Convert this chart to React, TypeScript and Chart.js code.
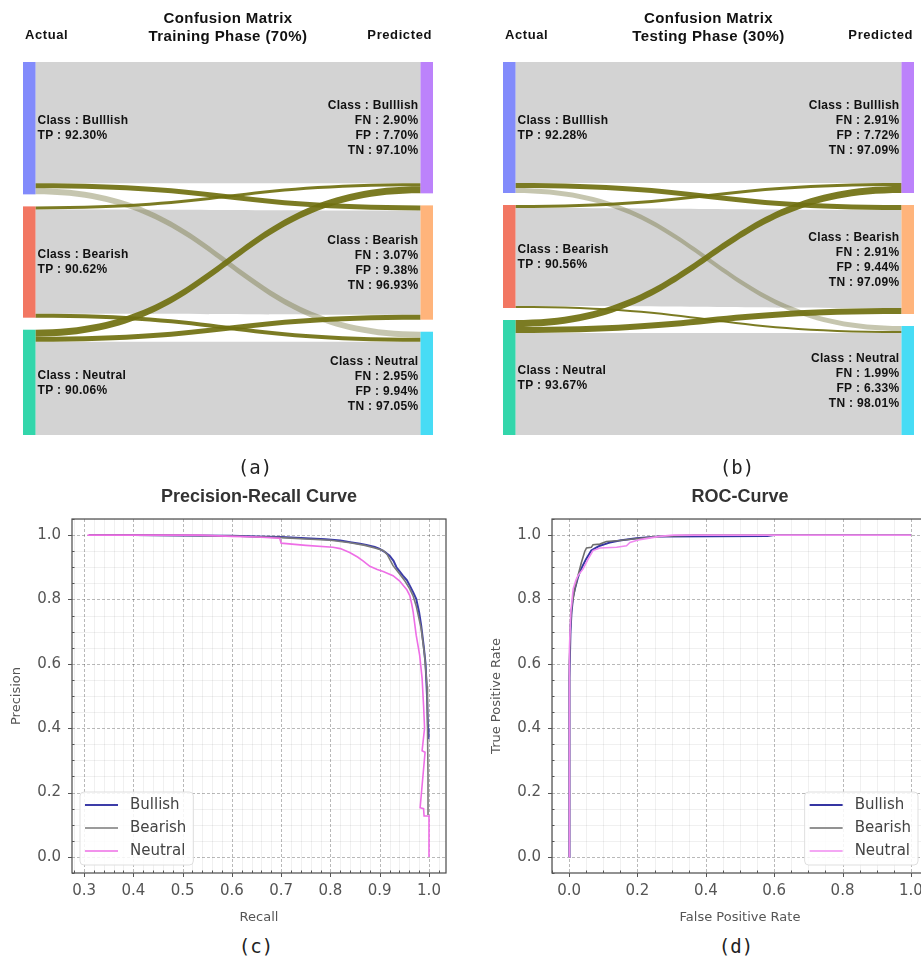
import React, { useEffect, useRef } from 'react';
import { Chart, registerables } from 'chart.js';

Chart.register(...registerables);

// ---------------- Sankey (confusion-matrix flow) data ----------------
const NODE_CLASSES = ['Bulllish', 'Bearish', 'Neutral'];
// rows = actual class, cols = predicted class (relative sample weights)
const TRAIN_FLOWS = [
  [121, 5, 6],
  [3, 104, 4],
  [7, 5, 93],
];
const TEST_FLOWS = [
  [121, 5, 5],
  [3, 98, 2],
  [7, 6, 102],
];
const TRAIN_TP = [92.3, 90.62, 90.06];
const TRAIN_FN = [2.9, 3.07, 2.95];
const TRAIN_FP = [7.7, 9.38, 9.94];
const TRAIN_TN = [97.1, 96.93, 97.05];
const TEST_TP = [92.28, 90.56, 93.67];
const TEST_FN = [2.91, 2.91, 1.99];
const TEST_FP = [7.72, 9.44, 6.33];
const TEST_TN = [97.09, 97.09, 98.01];

// ---------------- Precision-Recall data ----------------
const LEGEND_LABELS = ['Bullish', 'Bearish', 'Neutral'];
const PR_BULLISH_R = [0.31, 0.4, 0.5, 0.6, 0.65, 0.7, 0.75, 0.79, 0.82, 0.84, 0.86, 0.873, 0.89, 0.9, 0.91, 0.92, 0.928, 0.934, 0.94, 0.947, 0.955, 0.961, 0.968, 0.974, 0.98, 0.984, 0.989, 0.993, 0.996, 0.998, 0.999];
const PR_BULLISH_P = [1.0, 1.0, 0.999, 0.998, 0.996, 0.994, 0.99, 0.987, 0.983, 0.978, 0.973, 0.969, 0.963, 0.957, 0.948, 0.936, 0.92, 0.9, 0.888, 0.874, 0.86, 0.843, 0.822, 0.802, 0.76, 0.72, 0.658, 0.6, 0.5, 0.4, 0.366];
const PR_BEARISH_R = [0.31, 0.4, 0.5, 0.6, 0.65, 0.7, 0.75, 0.8, 0.84, 0.87, 0.89, 0.907, 0.915, 0.927, 0.94, 0.95, 0.961, 0.968, 0.974, 0.979, 0.984, 0.991, 0.996, 0.997, 0.998, 0.998];
const PR_BEARISH_P = [1.0, 1.0, 0.999, 0.997, 0.995, 0.992, 0.988, 0.984, 0.976, 0.968, 0.96, 0.952, 0.94, 0.905, 0.88, 0.86, 0.833, 0.81, 0.78, 0.745, 0.71, 0.627, 0.53, 0.4, 0.25, 0.13];
const PR_NEUTRAL_R = [0.307, 0.4, 0.535, 0.6, 0.65, 0.697, 0.7, 0.75, 0.805, 0.82, 0.839, 0.855, 0.866, 0.88, 0.895, 0.907, 0.927, 0.94, 0.947, 0.955, 0.961, 0.965, 0.968, 0.974, 0.981, 0.986, 0.989, 0.991, 0.986, 0.992, 0.982, 0.989, 0.99, 1.0, 1.0];
const PR_NEUTRAL_P = [1.0, 1.0, 1.0, 0.996, 0.994, 0.99, 0.975, 0.968, 0.962, 0.958, 0.946, 0.932, 0.92, 0.903, 0.893, 0.887, 0.874, 0.858, 0.845, 0.83, 0.812, 0.785, 0.76, 0.689, 0.627, 0.555, 0.47, 0.4, 0.33, 0.325, 0.153, 0.15, 0.127, 0.127, 0.0];

// ---------------- ROC data ----------------
const ROC_BULLISH_F = [0, 0, 0.001, 0.002, 0.004, 0.007, 0.012, 0.017, 0.025, 0.031, 0.04, 0.05, 0.058, 0.065, 0.078, 0.09, 0.105, 0.119, 0.148, 0.197, 0.265, 0.58, 0.6, 1.0];
const ROC_BULLISH_T = [0, 0.13, 0.38, 0.555, 0.7, 0.76, 0.81, 0.833, 0.865, 0.885, 0.905, 0.926, 0.94, 0.952, 0.96, 0.967, 0.972, 0.977, 0.983, 0.99, 0.996, 0.997, 1.0, 1.0];
const ROC_BEARISH_F = [0, 0, 0.002, 0.004, 0.008, 0.017, 0.026, 0.036, 0.046, 0.051, 0.065, 0.07, 0.09, 0.109, 0.148, 0.187, 0.265, 0.363, 1.0];
const ROC_BEARISH_T = [0, 0.3, 0.606, 0.72, 0.78, 0.833, 0.874, 0.915, 0.95, 0.96, 0.962, 0.97, 0.972, 0.98, 0.983, 0.988, 0.996, 1.0, 1.0];
const ROC_NEUTRAL_F = [0, 0, 0.002, 0.005, 0.012, 0.02, 0.026, 0.041, 0.056, 0.07, 0.09, 0.139, 0.168, 0.178, 0.207, 0.265, 0.305, 1.0];
const ROC_NEUTRAL_T = [0, 0.45, 0.65, 0.76, 0.833, 0.86, 0.874, 0.895, 0.926, 0.952, 0.96, 0.962, 0.967, 0.977, 0.986, 0.996, 1.0, 1.0];

// ---------------- Tick labels ----------------
const PR_X_TICKS = [0.3, 0.4, 0.5, 0.6, 0.7, 0.8, 0.9, 1.0];
const ROC_X_TICKS = [0.0, 0.2, 0.4, 0.6, 0.8, 1.0];
const Y_TICKS = [0.0, 0.2, 0.4, 0.6, 0.8, 1.0];

// ---------------- Styles ----------------
const NODE_W = 12.5;
const NODE_GAP = 12;
const LEFT_NODE_COLORS = ['rgba(99,110,250,0.8)', 'rgba(239,85,59,0.8)', 'rgba(0,204,150,0.8)'];
const RIGHT_NODE_COLORS = ['rgba(171,99,250,0.8)', 'rgba(255,161,90,0.8)', 'rgba(25,211,243,0.8)'];
const LINK_TP = '#d3d3d3';
const LINK_OLIVE = 'rgba(112,112,16,0.92)';
const LINK_LIGHT = 'rgba(105,105,45,0.38)';
const LINK_COLORS = [
  [LINK_TP, LINK_OLIVE, LINK_LIGHT],
  [LINK_OLIVE, LINK_TP, LINK_OLIVE],
  [LINK_OLIVE, LINK_OLIVE, LINK_TP],
];
const SANS = '"Liberation Sans", Arial, sans-serif';
const DJ = '"DejaVu Sans", sans-serif';

const pct = (v: number) => v.toFixed(2) + '%';

function makeSankeyPlugin(cfg: any) {
  return {
    id: 'sankeyDraw',
    afterDraw(chart: any) {
      const { ctx } = chart;
      const xs = chart.scales.x;
      const ys = chart.scales.y;
      const flows: number[][] = cfg.flows;
      const n = flows.length;
      const rowSum = flows.map((r) => r.reduce((s, v) => s + v, 0));
      const colSum = flows[0].map((_, j) => flows.reduce((s, r) => s + r[j], 0));
      const lTop: number[] = [];
      const rTop: number[] = [];
      let acc = 0;
      for (let i = 0; i < n; i++) { lTop.push(acc); acc += rowSum[i] + NODE_GAP; }
      acc = 0;
      for (let j = 0; j < n; j++) { rTop.push(acc); acc += colSum[j] + NODE_GAP; }
      const lx0 = xs.getPixelForValue(0);
      const lx1 = lx0 + NODE_W;
      const rx1 = xs.getPixelForValue(1);
      const rx0 = rx1 - NODE_W;
      const sOff = lTop.slice();
      const tOff = rTop.slice();
      const links: any[] = [];
      for (let i = 0; i < n; i++) {
        for (let j = 0; j < n; j++) {
          const v = flows[i][j];
          links.push({ i, j, v, s: sOff[i], t: tOff[j] });
          sOff[i] += v;
          tOff[j] += v;
        }
      }
      const xm = (lx1 + rx0) / 2;
      const ordered = [...links.filter((l) => l.i === l.j), ...links.filter((l) => l.i !== l.j)];
      ctx.save();
      for (const l of ordered) {
        const sy0 = ys.getPixelForValue(l.s);
        const sy1 = ys.getPixelForValue(l.s + l.v);
        const ty0 = ys.getPixelForValue(l.t);
        const ty1 = ys.getPixelForValue(l.t + l.v);
        ctx.fillStyle = LINK_COLORS[l.i][l.j];
        ctx.beginPath();
        ctx.moveTo(lx1, sy0);
        ctx.bezierCurveTo(xm, sy0, xm, ty0, rx0, ty0);
        ctx.lineTo(rx0, ty1);
        ctx.bezierCurveTo(xm, ty1, xm, sy1, lx1, sy1);
        ctx.closePath();
        ctx.fill();
      }
      // nodes
      for (let i = 0; i < n; i++) {
        const y0 = ys.getPixelForValue(lTop[i]);
        const y1 = ys.getPixelForValue(lTop[i] + rowSum[i]);
        ctx.fillStyle = LEFT_NODE_COLORS[i];
        ctx.fillRect(lx0, y0, NODE_W, y1 - y0);
      }
      for (let j = 0; j < n; j++) {
        const y0 = ys.getPixelForValue(rTop[j]);
        const y1 = ys.getPixelForValue(rTop[j] + colSum[j]);
        ctx.fillStyle = RIGHT_NODE_COLORS[j];
        ctx.fillRect(rx0, y0, NODE_W, y1 - y0);
      }
      // labels
      ctx.fillStyle = '#111';
      ctx.font = `bold 12px ${SANS}`;
      (ctx as any).letterSpacing = '0.3px';
      ctx.textBaseline = 'middle';
      const LH = 15;
      for (let i = 0; i < n; i++) {
        const cy = (ys.getPixelForValue(lTop[i]) + ys.getPixelForValue(lTop[i] + rowSum[i])) / 2;
        const lines = [`Class : ${NODE_CLASSES[i]}`, `TP : ${pct(cfg.tp[i])}`];
        ctx.textAlign = 'left';
        lines.forEach((t, k) => ctx.fillText(t, lx1 + 2, cy + 0.5 + (k - (lines.length - 1) / 2) * LH));
      }
      for (let j = 0; j < n; j++) {
        const cy = (ys.getPixelForValue(rTop[j]) + ys.getPixelForValue(rTop[j] + colSum[j])) / 2;
        const lines = [`Class : ${NODE_CLASSES[j]}`, `FN : ${pct(cfg.fn[j])}`, `FP : ${pct(cfg.fp[j])}`, `TN : ${pct(cfg.tn[j])}`];
        ctx.textAlign = 'right';
        lines.forEach((t, k) => ctx.fillText(t, rx0 - 2, cy + 0.5 + (k - (lines.length - 1) / 2) * LH));
      }
      // headers
      ctx.font = `bold 13px ${SANS}`;
      (ctx as any).letterSpacing = '0.6px';
      ctx.textAlign = 'left';
      ctx.fillText('Actual', lx0 + 2, 35);
      ctx.textAlign = 'right';
      ctx.fillText('Predicted', rx1 - 1, 35);
      ctx.font = `bold 15px ${SANS}`;
      (ctx as any).letterSpacing = '0.4px';
      ctx.textAlign = 'center';
      const cx = (lx0 + rx1) / 2;
      ctx.fillText('Confusion Matrix', cx, 19);
      ctx.fillText(cfg.phase, cx, 37);
      ctx.restore();
    },
  };
}

function SankeyPanel(props: { left: number; width: number; padRight: number; cfg: any }) {
  const ref = useRef<HTMLCanvasElement>(null);
  useEffect(() => {
    const flows: number[][] = props.cfg.flows;
    const total = flows.reduce((s, r) => s + r.reduce((a, b) => a + b, 0), 0) + NODE_GAP * (flows.length - 1);
    const chart = new Chart(ref.current as HTMLCanvasElement, {
      type: 'scatter',
      data: { datasets: [] },
      options: {
        responsive: false,
        animation: false,
        events: [],
        layout: { padding: { left: 23, right: props.padRight, top: 62, bottom: 25 } },
        scales: {
          x: { type: 'linear', display: false, min: 0, max: 1 },
          y: { type: 'linear', display: false, min: 0, max: total, reverse: true },
        },
        plugins: { legend: { display: false }, tooltip: { enabled: false } },
      } as any,
      plugins: [makeSankeyPlugin(props.cfg)],
    });
    return () => chart.destroy();
  }, []);
  return (
    <canvas
      ref={ref}
      width={props.width}
      height={460}
      style={{ position: 'absolute', left: props.left, top: 0, width: props.width, height: 460 }}
    />
  );
}

function minorVals(min: number, max: number, step: number) {
  const out: number[] = [];
  const k0 = Math.ceil(min / step - 1e-9);
  const k1 = Math.floor(max / step + 1e-9);
  for (let k = k0; k <= k1; k++) out.push(k * step);
  return out;
}
const isMajor = (v: number, step: number) => Math.abs(v / step - Math.round(v / step)) < 1e-6;

const framePlugin = {
  id: 'frame',
  beforeDatasetsDraw(chart: any, _a: any, o: any) {
    const { ctx, chartArea: a } = chart;
    const xs = chart.scales.x;
    const ys = chart.scales.y;
    ctx.save();
    ctx.beginPath();
    ctx.rect(a.left, a.top, a.right - a.left, a.bottom - a.top);
    ctx.clip();
    ctx.lineWidth = 0.8;
    ctx.strokeStyle = 'rgba(0,0,0,0.08)';
    for (const v of minorVals(xs.min, xs.max, o.xMinor)) {
      if (isMajor(v, o.xMajor)) continue;
      const p = Math.round(xs.getPixelForValue(v)) + 0.5;
      ctx.beginPath(); ctx.moveTo(p, a.top); ctx.lineTo(p, a.bottom); ctx.stroke();
    }
    for (const v of minorVals(ys.min, ys.max, o.yMinor)) {
      if (isMajor(v, o.yMajor)) continue;
      const p = Math.round(ys.getPixelForValue(v)) + 0.5;
      ctx.beginPath(); ctx.moveTo(a.left, p); ctx.lineTo(a.right, p); ctx.stroke();
    }
    ctx.setLineDash([3, 2]);
    ctx.strokeStyle = 'rgba(0,0,0,0.35)';
    for (const t of xs.ticks) {
      const p = Math.round(xs.getPixelForValue(t.value)) + 0.5;
      ctx.beginPath(); ctx.moveTo(p, a.top); ctx.lineTo(p, a.bottom); ctx.stroke();
    }
    for (const t of ys.ticks) {
      const p = Math.round(ys.getPixelForValue(t.value)) + 0.5;
      ctx.beginPath(); ctx.moveTo(a.left, p); ctx.lineTo(a.right, p); ctx.stroke();
    }
    ctx.restore();
  },
  afterDraw(chart: any, _a: any, o: any) {
    const { ctx, chartArea: a } = chart;
    const xs = chart.scales.x;
    const ys = chart.scales.y;
    ctx.save();
    // spines
    ctx.strokeStyle = '#4a4a4a';
    ctx.lineWidth = 1.2;
    ctx.strokeRect(a.left, a.top, a.right - a.left, a.bottom - a.top);
    // tick marks
    ctx.lineWidth = 1;
    ctx.strokeStyle = '#555';
    for (const v of minorVals(xs.min, xs.max, o.xMinor)) {
      const p = Math.round(xs.getPixelForValue(v)) + 0.5;
      ctx.beginPath();
      if (isMajor(v, o.xMajor)) { ctx.moveTo(p, a.bottom); ctx.lineTo(p, a.bottom + 4); }
      else { ctx.moveTo(p, a.bottom); ctx.lineTo(p, a.bottom - 2.5); }
      ctx.stroke();
    }
    for (const v of minorVals(ys.min, ys.max, o.yMinor)) {
      const p = Math.round(ys.getPixelForValue(v)) + 0.5;
      ctx.beginPath();
      if (isMajor(v, o.yMajor)) { ctx.moveTo(a.left, p); ctx.lineTo(a.left - 4, p); }
      else { ctx.moveTo(a.left, p); ctx.lineTo(a.left + 2.5, p); }
      ctx.stroke();
    }
    // title
    const cx = (a.left + a.right) / 2;
    ctx.fillStyle = '#333';
    ctx.font = `bold 18px ${SANS}`;
    ctx.textAlign = 'center';
    ctx.textBaseline = 'middle';
    ctx.fillText(o.title, cx, 17);
    // axis titles
    ctx.fillStyle = '#555';
    ctx.font = `13px ${DJ}`;
    ctx.fillText(o.xTitle, cx, a.bottom + 45);
    ctx.save();
    ctx.translate(a.left - 55, (a.top + a.bottom) / 2);
    ctx.rotate(-Math.PI / 2);
    ctx.fillText(o.yTitle, 0, 0);
    ctx.restore();
    // legend
    const items = chart.data.datasets;
    ctx.font = `15px ${DJ}`;
    const tw = Math.max(...items.map((d: any) => ctx.measureText(d.label).width));
    const bw = 50 + tw + 7;
    const bh = 73;
    const bx = o.legend === 'left' ? a.left + 8 : a.right - 10 - bw;
    const by = a.bottom - 8 - bh;
    ctx.beginPath();
    (ctx as any).roundRect(bx, by, bw, bh, 4);
    ctx.fillStyle = 'rgba(255,255,255,0.85)';
    ctx.fill();
    ctx.strokeStyle = 'rgba(220,220,220,0.9)';
    ctx.lineWidth = 1;
    ctx.stroke();
    items.forEach((d: any, k: number) => {
      const yy = by + 13 + k * 23;
      ctx.strokeStyle = d.borderColor;
      ctx.lineWidth = d.borderWidth;
      ctx.beginPath(); ctx.moveTo(bx + 5, yy); ctx.lineTo(bx + 38, yy); ctx.stroke();
      ctx.fillStyle = '#444';
      ctx.textAlign = 'left';
      ctx.fillText(d.label, bx + 50, yy);
    });
    ctx.restore();
  },
};

type Series = { label: string; xs: number[]; ys: number[]; color: string; width: number; order: number };

function CurveChart(props: {
  left: number; width: number; padRight: number; axisWidth: number; series: Series[];
  xMin: number; xMax: number; xTicks: number[]; xMajor: number; xMinor: number;
  title: string; xTitle: string; yTitle: string; legend: string;
}) {
  const ref = useRef<HTMLCanvasElement>(null);
  useEffect(() => {
    const tickFont = { family: '"DejaVu Sans", sans-serif', size: 15 };
    const chart = new Chart(ref.current as HTMLCanvasElement, {
      type: 'scatter',
      data: {
        datasets: props.series.map((s) => ({
          label: s.label,
          data: s.xs.map((x, k) => ({ x, y: s.ys[k] })),
          showLine: true,
          borderColor: s.color,
          backgroundColor: s.color,
          borderWidth: s.width,
          pointRadius: 0,
          tension: 0,
          fill: false,
          order: s.order,
        })),
      },
      options: {
        responsive: false,
        animation: false,
        events: [],
        layout: { padding: { left: 0, right: props.padRight, top: 39, bottom: 0 } },
        scales: {
          x: {
            type: 'linear', min: props.xMin, max: props.xMax,
            grid: { display: false, drawTicks: false }, border: { display: false },
            ticks: { font: tickFont, color: '#555', padding: 9, autoSkip: false, maxRotation: 0, callback: (v: any) => Number(v).toFixed(1) },
            afterBuildTicks: (s: any) => { s.ticks = props.xTicks.map((v) => ({ value: v })); },
            afterFit: (s: any) => { s.height = 57; },
          },
          y: {
            type: 'linear', min: -0.05, max: 1.05,
            grid: { display: false, drawTicks: false }, border: { display: false },
            ticks: { font: tickFont, color: '#555', padding: 11, autoSkip: false, callback: (v: any) => Number(v).toFixed(1) },
            afterBuildTicks: (s: any) => { s.ticks = Y_TICKS.map((v) => ({ value: v })); },
            afterFit: (s: any) => { s.width = props.axisWidth; },
          },
        },
        plugins: {
          legend: { display: false },
          tooltip: { enabled: false },
          frame: {
            xMajor: props.xMajor, xMinor: props.xMinor, yMajor: 0.2, yMinor: 0.05,
            title: props.title, xTitle: props.xTitle, yTitle: props.yTitle, legend: props.legend,
          },
        },
      } as any,
      plugins: [framePlugin as any],
    });
    return () => chart.destroy();
  }, []);
  return (
    <canvas
      ref={ref}
      width={props.width}
      height={450}
      style={{ position: 'absolute', left: props.left, top: 480, width: props.width, height: 450 }}
    />
  );
}

const capStyle = (x: number, y: number): React.CSSProperties => ({
  position: 'absolute', left: x, top: y, transform: 'translate(-50%, -50%)',
  font: '19px "DejaVu Sans Mono", monospace', color: '#222', whiteSpace: 'nowrap', zIndex: 2,
});

export default function App() {
  const prSeries: Series[] = [
    { label: LEGEND_LABELS[0], xs: PR_BULLISH_R, ys: PR_BULLISH_P, color: '#3c3ca8', width: 2, order: 2 },
    { label: LEGEND_LABELS[1], xs: PR_BEARISH_R, ys: PR_BEARISH_P, color: '#7a7a7a', width: 1.6, order: 1 },
    { label: LEGEND_LABELS[2], xs: PR_NEUTRAL_R, ys: PR_NEUTRAL_P, color: '#ee6ee6', width: 1.6, order: 0 },
  ];
  const rocSeries: Series[] = [
    { label: LEGEND_LABELS[0], xs: ROC_BULLISH_F, ys: ROC_BULLISH_T, color: '#3535a2', width: 2, order: 2 },
    { label: LEGEND_LABELS[1], xs: ROC_BEARISH_F, ys: ROC_BEARISH_T, color: '#6e6e6e', width: 1.6, order: 1 },
    { label: LEGEND_LABELS[2], xs: ROC_NEUTRAL_F, ys: ROC_NEUTRAL_T, color: '#f08af0', width: 1.6, order: 0 },
  ];
  const trainCfg = { flows: TRAIN_FLOWS, tp: TRAIN_TP, fn: TRAIN_FN, fp: TRAIN_FP, tn: TRAIN_TN, phase: 'Training Phase (70%)' };
  const testCfg = { flows: TEST_FLOWS, tp: TEST_TP, fn: TEST_FN, fp: TEST_FP, tn: TEST_TN, phase: 'Testing Phase (30%)' };
  return (
    <div style={{ position: 'absolute', left: 0, top: 0, width: 921, height: 959, overflow: 'hidden', background: '#fff' }}>
      <SankeyPanel left={0} width={460} padRight={27} cfg={trainCfg} />
      <SankeyPanel left={480} width={441} padRight={7} cfg={testCfg} />
      <CurveChart
        left={0} width={460} padRight={14} axisWidth={72} series={prSeries}
        xMin={0.2755} xMax={1.0345} xTicks={PR_X_TICKS} xMajor={0.1} xMinor={0.02}
        title="Precision-Recall Curve" xTitle="Recall" yTitle="Precision" legend="left"
      />
      <CurveChart
        left={460} width={480} padRight={12} axisWidth={92} series={rocSeries}
        xMin={-0.05} xMax={1.05} xTicks={ROC_X_TICKS} xMajor={0.2} xMinor={0.05}
        title="ROC-Curve" xTitle="False Positive Rate" yTitle="True Positive Rate" legend="right"
      />
      <div style={capStyle(255, 467)}>(a)</div>
      <div style={capStyle(737, 467)}>(b)</div>
      <div style={capStyle(256, 946)}>(c)</div>
      <div style={capStyle(736, 946)}>(d)</div>
    </div>
  );
}
